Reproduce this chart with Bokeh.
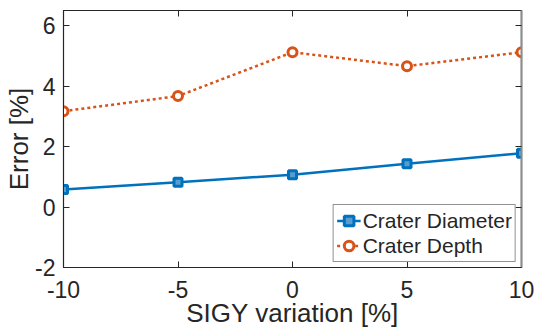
from bokeh.plotting import figure
from bokeh.models import LinearAxis, Range1d, FixedTicker, Legend, LegendItem, CustomJSTickFormatter
from bokeh.embed import file_html
from bokeh.resources import INLINE

variation = [-10, -5, 0, 5, 10]
crater_diameter = [0.58, 0.82, 1.07, 1.43, 1.78]
crater_depth = [3.17, 3.67, 5.12, 4.66, 5.12]
x_ticks = [-10, -5, 0, 5, 10]
y_ticks = [-2, 0, 2, 4, 6]

FONT = "Liberation Sans"
TXT = "#262626"
BLUE = "#0072BD"
ORANGE = "#D95319"

p = figure(width=536, height=334, output_backend="svg", toolbar_location=None,
           x_range=Range1d(-10, 10), y_range=Range1d(-2, 6.5),
           min_border_left=63, min_border_right=15, min_border_top=10, min_border_bottom=67)
p.grid.visible = False
p.outline_line_color = TXT
p.outline_line_width = 1.2

plain = CustomJSTickFormatter(code="return String(tick)")
for ax in (p.xaxis[0], p.yaxis[0]):
    ax.formatter = plain
    ax.major_label_text_font = FONT
    ax.major_label_text_font_size = "23px"
    ax.major_label_text_color = TXT
    ax.axis_label_text_font = FONT
    ax.axis_label_text_font_size = "26px"
    ax.axis_label_text_font_style = "normal"
    ax.axis_label_text_color = TXT
    ax.major_tick_in = 6
    ax.major_tick_out = 0
    ax.minor_tick_in = 0
    ax.minor_tick_out = 0
    ax.minor_tick_line_color = None
    ax.axis_line_color = TXT
    ax.major_tick_line_color = TXT
p.xaxis[0].ticker = FixedTicker(ticks=x_ticks)
p.yaxis[0].ticker = FixedTicker(ticks=y_ticks)
p.xaxis[0].axis_label = "SIGY variation [%]"
p.yaxis[0].axis_label = "Error [%]"
p.xaxis[0].major_label_standoff = 13
p.xaxis[0].axis_label_standoff = -3
p.yaxis[0].major_label_standoff = 8
p.yaxis[0].axis_label_standoff = -2

blank = CustomJSTickFormatter(code="return ''")
top = LinearAxis(ticker=FixedTicker(ticks=x_ticks), formatter=blank,
                 major_label_standoff=0, axis_label_standoff=0,
                 major_tick_in=6, major_tick_out=0, minor_tick_in=0, minor_tick_out=0,
                 minor_tick_line_color=None,
                 axis_line_color=TXT, major_tick_line_color=TXT)
right = LinearAxis(ticker=FixedTicker(ticks=y_ticks), formatter=blank,
                   major_label_standoff=0, axis_label_standoff=0,
                   major_tick_in=6, major_tick_out=0, minor_tick_in=0, minor_tick_out=0,
                   minor_tick_line_color=None,
                   axis_line_color="#8c8c8c", axis_line_width=2, major_tick_line_color=TXT)
p.add_layout(top, "above")
p.add_layout(right, "right")

l1 = p.line(variation, crater_diameter, line_color=BLUE, line_width=2.5)
m1 = p.scatter(variation, crater_diameter, marker="square", size=8, line_color=BLUE,
               line_width=3, fill_color="#5a9bd0")
l2 = p.line(variation, crater_depth, line_color=ORANGE, line_width=2.5, line_dash="3 3")
m2 = p.scatter(variation, crater_depth, marker="circle", size=9, line_color=ORANGE,
               line_width=3, fill_color="white")

legend = Legend(items=[LegendItem(label="Crater Diameter", renderers=[l1, m1]),
                       LegendItem(label="Crater Depth", renderers=[l2, m2])],
                location="bottom_right")
legend.label_text_font = FONT
legend.label_text_font_size = "21px"
legend.label_text_color = TXT
legend.border_line_color = TXT
legend.border_line_width = 1
legend.background_fill_color = "white"
legend.background_fill_alpha = 1
legend.glyph_width = 24
legend.glyph_height = 25
legend.label_height = 25
legend.label_standoff = 2
legend.padding = 3
legend.spacing = 0
legend.margin = 5
p.add_layout(legend)

open("out.html", "w").write(file_html(p, INLINE))
